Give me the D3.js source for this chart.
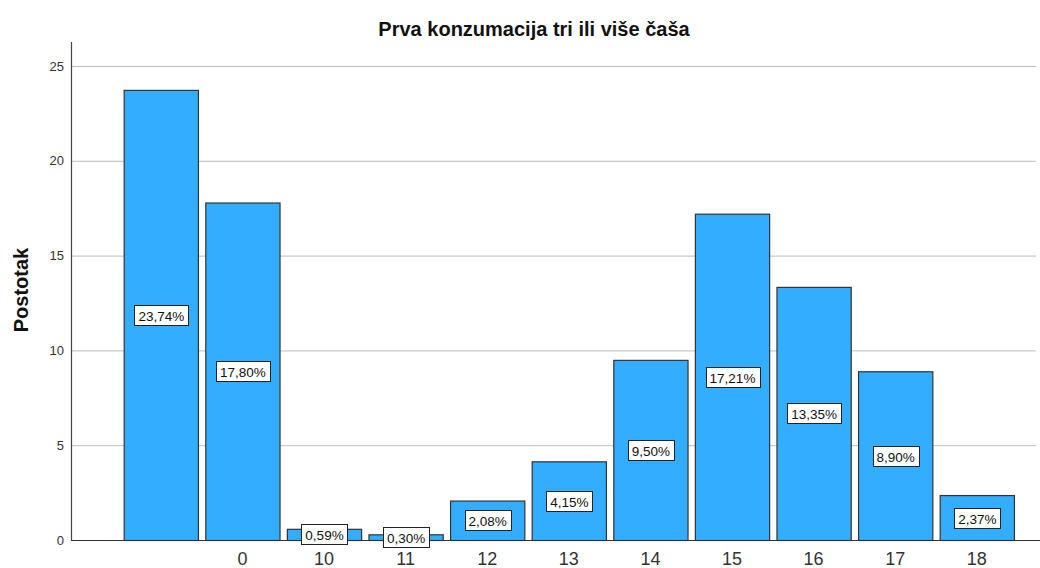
<!DOCTYPE html>
<html>
<head>
<meta charset="utf-8">
<script src="https://cdn.jsdelivr.net/npm/d3@7"></script>
<style>
  html, body { margin: 0; padding: 0; background: #fff; }
  svg { display: block; font-family: "Liberation Sans", Arial, sans-serif; }
</style>
</head>
<body>
<svg id="chart" width="1040" height="568"></svg>
<script>
// Categories (first one has no label in the source) and percentages
const categories = ["", "0", "10", "11", "12", "13", "14", "15", "16", "17", "18"];
const percents = [23.74, 17.80, 0.59, 0.30, 2.08, 4.15, 9.50, 17.21, 13.35, 8.90, 2.37];
const yTicks = [0, 5, 10, 15, 20, 25];

const title = "Prva konzumacija tri ili više čaša";
const yTitle = "Postotak";

const svg = d3.select("#chart");

// Plot frame
const plot = { left: 71, bottom: 540, top: 42, right: 1040 };

const x = d3.scaleBand()
  .domain(categories)
  .range([120, 1017.6])
  .paddingInner(0.09)
  .paddingOuter(0.045);

const y = d3.scaleLinear()
  .domain([0, 25])
  .range([plot.bottom, 66]);

// Gridlines
svg.append("g")
  .selectAll("line")
  .data(yTicks.filter(d => d > 0))
  .join("line")
  .attr("x1", plot.left).attr("x2", plot.right - 4)
  .attr("y1", d => y(d) + 0.5).attr("y2", d => y(d) + 0.5)
  .attr("stroke", "#bdbdbd")
  .attr("stroke-width", 1);

// Y axis labels
const yAxis = svg.append("g")
  .attr("transform", `translate(${plot.left},0)`)
  .call(d3.axisLeft(y).tickValues(yTicks).tickSize(0).tickPadding(7));
yAxis.select(".domain").remove();
yAxis.selectAll("text")
  .attr("font-size", 13)
  .attr("fill", "#333")
  .attr("font-family", "Liberation Sans, Arial, sans-serif");

// Bars
svg.append("g")
  .selectAll("rect")
  .data(percents)
  .join("rect")
  .attr("x", (d, i) => x(categories[i]) + 0.5)
  .attr("y", d => y(d) + 0.5)
  .attr("width", x.bandwidth())
  .attr("height", d => plot.bottom - y(d))
  .attr("fill", "#33adff")
  .attr("stroke", "#333")
  .attr("stroke-width", 1.2);

// Axis lines
svg.append("line")
  .attr("x1", plot.left + 0.5).attr("x2", plot.left + 0.5)
  .attr("y1", plot.top).attr("y2", plot.bottom)
  .attr("stroke", "#444").attr("stroke-width", 1.2);
svg.append("line")
  .attr("x1", plot.left).attr("x2", plot.right)
  .attr("y1", plot.bottom + 0.5).attr("y2", plot.bottom + 0.5)
  .attr("stroke", "#333").attr("stroke-width", 1.2);

// X tick labels
const xAxis = svg.append("g")
  .attr("transform", `translate(0,${plot.bottom})`)
  .call(d3.axisBottom(x).tickSize(0).tickPadding(12));
xAxis.select(".domain").remove();
xAxis.selectAll("text")
  .attr("font-size", 18)
  .attr("fill", "#333")
  .attr("font-family", "Liberation Sans, Arial, sans-serif");

// Value labels in boxes, centred at half the bar height
const fmt = v => d3.format(".2f")(v).replace(".", ",") + "%";
const labels = svg.append("g")
  .selectAll("g")
  .data(percents)
  .join("g");
labels.each(function(d, i) {
  const g = d3.select(this);
  const t = g.append("text")
    .text(fmt(d))
    .attr("font-size", 13.5)
    .attr("fill", "#111")
    .attr("text-anchor", "middle")
    .attr("dominant-baseline", "central");
  const w = t.node().getComputedTextLength() + 8;
  const h = 20;
  const cx = x(categories[i]) + x.bandwidth() / 2 + 0.5;
  const cy = Math.round(y(d / 2));
  t.attr("x", cx).attr("y", cy + 1);
  g.insert("rect", "text")
    .attr("x", Math.round(cx - w / 2) + 0.5).attr("y", cy - h / 2 + 0.5)
    .attr("width", Math.round(w)).attr("height", h)
    .attr("fill", "#fff")
    .attr("stroke", "#222")
    .attr("stroke-width", 1);
});

// Titles
svg.append("text")
  .attr("x", 534).attr("y", 36)
  .attr("text-anchor", "middle")
  .attr("font-size", 20)
  .attr("font-weight", "bold")
  .attr("fill", "#111")
  .text(title);

svg.append("text")
  .attr("transform", `translate(28,290) rotate(-90)`)
  .attr("text-anchor", "middle")
  .attr("font-size", 20)
  .attr("font-weight", "bold")
  .attr("fill", "#111")
  .text(yTitle);
</script>
</body>
</html>
